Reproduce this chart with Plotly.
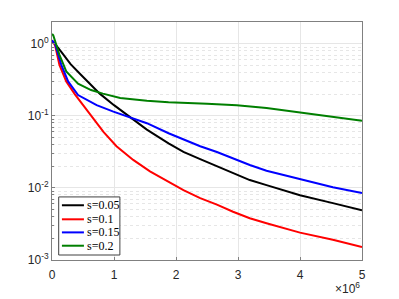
import plotly.graph_objects as go

# x positions (in units of 1e6 iterations) and log10 of the value
x_black = [0, 0.05, 0.15, 0.3, 0.47, 0.6, 0.77, 1.0, 1.23, 1.53, 1.88, 2.12, 2.39, 2.66, 2.92, 3.19, 3.46, 4.0, 4.53, 5.0]
y_black = [0.03, 0.0, -0.11, -0.28, -0.43, -0.54, -0.69, -0.85, -1.0, -1.19, -1.38, -1.50, -1.60, -1.70, -1.79, -1.89, -1.96, -2.10, -2.21, -2.31]

x_red = [0, 0.05, 0.12, 0.23, 0.37, 0.5, 0.61, 0.83, 1.04, 1.31, 1.58, 2.12, 2.39, 2.66, 2.92, 3.19, 3.46, 4.0, 4.53, 5.0]
y_red = [0.05, -0.02, -0.29, -0.52, -0.70, -0.85, -0.96, -1.22, -1.42, -1.61, -1.77, -2.03, -2.14, -2.23, -2.33, -2.42, -2.49, -2.62, -2.72, -2.82]

x_blue = [0, 0.05, 0.15, 0.26, 0.42, 0.72, 0.99, 1.23, 1.53, 1.88, 2.12, 2.39, 2.66, 2.92, 3.19, 3.46, 4.0, 4.53, 5.0]
y_blue = [0.05, 0.0, -0.29, -0.52, -0.71, -0.85, -0.94, -1.01, -1.10, -1.24, -1.33, -1.42, -1.50, -1.59, -1.68, -1.76, -1.88, -1.99, -2.07]

x_green = [0, 0.02, 0.12, 0.23, 0.42, 0.63, 0.82, 1.1, 1.53, 1.88, 2.5, 2.98, 3.46, 4.0, 4.53, 5.0]
y_green = [0.14, 0.12, -0.15, -0.38, -0.55, -0.64, -0.69, -0.75, -0.79, -0.81, -0.83, -0.85, -0.89, -0.95, -1.01, -1.065]

names = ["s=0.05", "s=0.1", "s=0.15", "s=0.2"]
colors = ["#000000", "#FF0000", "#0000FF", "#007F00"]
xs_all = [x_black, x_red, x_blue, x_green]
ys_all = [y_black, y_red, y_blue, y_green]

x_ticks = [0, 1, 2, 3, 4, 5]
y_decades = [-3, -2, -1, 0]

fig = go.Figure()
for name, xs, ys, col in zip(names, xs_all, ys_all, colors):
    fig.add_trace(go.Scatter(
        x=[v * 1e6 for v in xs], y=[10 ** v for v in ys], mode="lines", name=name,
        line=dict(color=col, width=2), showlegend=False,
    ))

axis_common = dict(
    showline=True, linecolor="#808080", linewidth=1, mirror=True,
    ticks="inside", ticklen=3, tickcolor="#808080",
    showgrid=True, gridcolor="#E6E6E6", gridwidth=1, zeroline=False,
    tickfont=dict(family="Liberation Sans, Arial", size=12, color="#262626"),
)

fig.update_xaxes(
    type="linear", range=[0, 5e6],
    tickvals=[v * 1e6 for v in x_ticks], ticktext=[str(v) for v in x_ticks],
    ticklabelstandoff=4,
    **axis_common,
)
fig.update_yaxes(
    type="log", range=[-3, 0.305],
    tickvals=[10 ** d for d in y_decades],
    ticktext=["10<sup>%d</sup>" % d for d in y_decades],
    minor=dict(dtick="D1", showgrid=True, gridcolor="#E6E6E6", griddash="dot",
               ticks="inside", ticklen=2, tickcolor="#808080"),
    **axis_common,
)

fig.add_annotation(
    text="×10<sup>6</sup>", xref="paper", yref="paper", x=1.0, y=-0.118,
    xanchor="right", yanchor="middle", showarrow=False,
    font=dict(family="Liberation Sans, Arial", size=12, color="#262626"),
)

# custom compact legend (box, sample lines, labels)
fig.add_shape(type="rect", xref="paper", yref="paper", x0=0.0216, x1=0.219, y0=0.021, y1=0.265,
              line=dict(color="#404040", width=1), fillcolor="white", layer="above")
row_y = [0.230, 0.171, 0.116, 0.060]
for name, col, ry in zip(names, colors, row_y):
    fig.add_shape(type="line", xref="paper", yref="paper", x0=0.032, x1=0.103, y0=ry, y1=ry,
                  line=dict(color=col, width=2), layer="above")
    fig.add_annotation(text=name, xref="paper", yref="paper", x=0.106, y=ry,
                       xanchor="left", yanchor="middle", showarrow=False,
                       font=dict(family="Liberation Serif, Times New Roman", size=12, color="#000000"))

fig.update_layout(
    width=391, height=291,
    margin=dict(l=44, r=37, t=14, b=39),
    paper_bgcolor="white", plot_bgcolor="white",
    showlegend=False,
)

fig.write_html("out.html")
